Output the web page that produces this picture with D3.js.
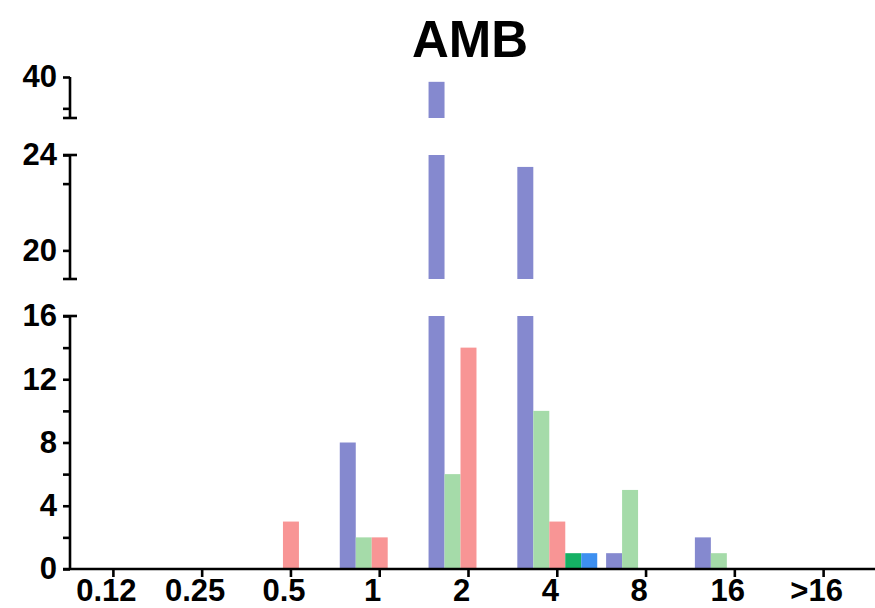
<!DOCTYPE html>
<html>
<head>
<meta charset="utf-8">
<script src="https://cdn.jsdelivr.net/npm/d3@7"></script>
<style>
  body { margin: 0; background: #fff; }
  svg { display: block; font-family: "Liberation Sans", Arial, sans-serif; }
  .axis text { font-weight: bold; fill: #000; }
</style>
</head>
<body>
<svg id="chart" width="875" height="608"></svg>
<script>
// DATA
const categories = ['0.12', '0.25', '0.5', '1', '2', '4', '8', '16', '>16'];
const seriesNames = ['A', 'B', 'C', 'D', 'E'];
const seriesA = [0, 0, 0, 8, 39.8, 23.5, 1, 2, 0];
const seriesB = [0, 0, 0, 2, 6, 10, 5, 1, 0];
const seriesC = [0, 0, 3, 2, 14, 3, 0, 0, 0];
const seriesD = [0, 0, 0, 0, 0, 1, 0, 0, 0];
const seriesE = [0, 0, 0, 0, 0, 1, 0, 0, 0];
const seriesValues = [seriesA, seriesB, seriesC, seriesD, seriesE];

// broken y axis segments
const lowDomain = [0, 16];
const lowTicks = [0, 4, 8, 12, 16];
const lowMinor = [2, 6, 10, 14];
const midDomain = [18.8, 24];
const midTicks = [20, 24];
const midMinor = [22.8];
const topDomain = [38.3, 40];
const topTicks = [40];
const topMinor = [38.7];

const colors = ['#8589cf', '#a5dba9', '#f89595', '#15b064', '#3d8ff0'];

const svg = d3.select('#chart');
const axisX = 70;
const baseY = 569;
const stroke = 2.6;

// x scales
const x0 = d3.scaleBand().domain(categories).range([69, 868])
  .paddingInner(0.1).paddingOuter(0.05);
const x1 = d3.scaleBand().domain(seriesNames).range([0, x0.bandwidth()]);

// y segment scales
const segments = [
  { scale: d3.scaleLinear().domain(lowDomain).range([baseY, 316]), ticks: lowTicks, minor: lowMinor, capTop: true, capBottom: false },
  { scale: d3.scaleLinear().domain(midDomain).range([279, 155]), ticks: midTicks, minor: midMinor, capTop: true, capBottom: true },
  { scale: d3.scaleLinear().domain(topDomain).range([118, 77]), ticks: topTicks, minor: topMinor, capTop: false, capBottom: true }
];

// BARS
const groups = svg.selectAll('.group')
  .data(categories)
  .enter().append('g')
  .attr('class', 'group')
  .attr('transform', d => `translate(${x0(d)},0)`);

segments.forEach(seg => {
  const [lo, hi] = seg.scale.domain();
  groups.each(function(cat, ci) {
    const g = d3.select(this);
    seriesNames.forEach((s, si) => {
      const v = seriesValues[si][ci];
      if (v <= lo) return;
      const top = Math.min(v, hi);
      g.append('rect')
        .attr('x', x1(s))
        .attr('width', x1.bandwidth())
        .attr('y', seg.scale(top))
        .attr('height', seg.scale(lo) - seg.scale(top))
        .attr('fill', colors[si]);
    });
  });
});

// Y AXES
segments.forEach(seg => {
  const g = svg.append('g')
    .attr('class', 'axis y')
    .attr('transform', `translate(${axisX},0)`);
  g.call(d3.axisLeft(seg.scale).tickValues(seg.ticks).tickFormat(d3.format('d'))
    .tickSize(7).tickSizeOuter(0).tickPadding(6));
  g.append('g').call(d3.axisLeft(seg.scale).tickValues(seg.minor).tickSize(7).tickSizeOuter(0).tickFormat(''))
    .select('.domain').remove();
  g.select('.domain').remove();
  g.selectAll('line').attr('stroke', '#000').attr('stroke-width', stroke);
  g.selectAll('text').style('font-size', '31px');
  const [r0, r1] = seg.scale.range();
  g.append('line').attr('x1', 0).attr('x2', 0).attr('y1', r0).attr('y2', r1)
    .attr('stroke', '#000').attr('stroke-width', stroke);
  if (seg.capTop) g.append('line').attr('x1', -7).attr('x2', 7).attr('y1', r1).attr('y2', r1)
    .attr('stroke', '#000').attr('stroke-width', stroke);
  if (seg.capBottom) g.append('line').attr('x1', -7).attr('x2', 7).attr('y1', r0).attr('y2', r0)
    .attr('stroke', '#000').attr('stroke-width', stroke);
});

// X AXIS
const xg = svg.append('g')
  .attr('class', 'axis x')
  .attr('transform', `translate(0,${baseY})`)
  .call(d3.axisBottom(x0).tickSize(8).tickSizeOuter(0).tickPadding(2));
xg.select('.domain').remove();
xg.selectAll('line').attr('stroke', '#000').attr('stroke-width', stroke);
xg.selectAll('text').style('font-size', '31px').attr('dx', -7);
xg.append('line').attr('x1', 63).attr('x2', 875).attr('y1', 0).attr('y2', 0)
  .attr('stroke', '#000').attr('stroke-width', stroke);

// TITLE
svg.append('text')
  .attr('x', 470).attr('y', 57)
  .attr('text-anchor', 'middle')
  .style('font-size', '51px').style('font-weight', 'bold')
  .text('AMB');
</script>
</body>
</html>
